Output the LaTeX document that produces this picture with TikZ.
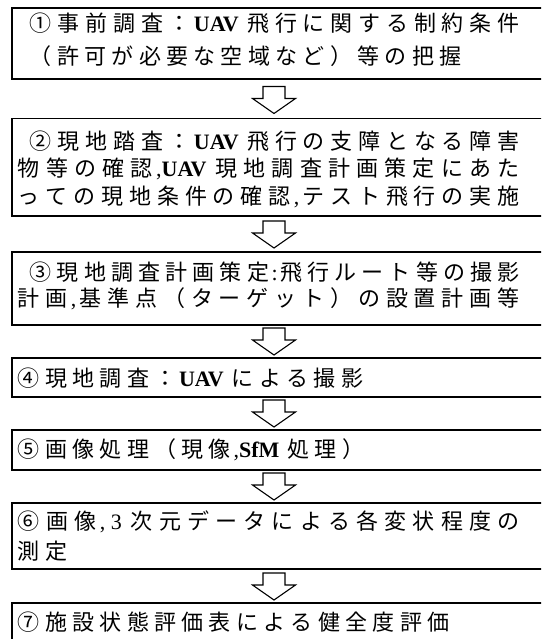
\documentclass[tikz,border=0pt]{standalone}
\usepackage{fontspec}
\setmainfont{Liberation Serif}
\newfontfamily\jp{Noto Sans CJK JP}
\newfontfamily\lat{Liberation Serif}
\newdimen\jpitch \jpitch=27.3pt
\makeatletter
\def\jg@end{\jg@end@}
\def\LT{\LT@}
\def\jg@sep{\hskip 0pt plus 1fil minus 1fil\relax}
\def\jg@{\futurelet\jg@tok\jg@check}
\def\jg@check{\ifx\jg@tok\jg@end\let\jg@next\jg@finish
  \else\ifx\jg@tok\LT\let\jg@next\jg@lat
  \else\let\jg@next\jg@char\fi\fi\jg@next}
\def\jg@finish#1{\unskip}
\def\jg@char#1{\hbox to \jpitch{\hss#1\hss}\jg@sep\jg@}
\def\jg@lat\LT#1{{\lat#1}\jg@sep\jg@}
% natural grid line
\newcommand\jg[1]{\hbox{\jg@#1\jg@end}}
% grid line justified to a given width
\newcommand\jgw[2]{\hbox to #1{\jg@#2\jg@end}}
\makeatother
\newcommand\blockarrow[1]{\draw[barrow] (#1) -- ++(-21.5,-15) -- ++(10.5,0) -- ++(0,-12) -- ++(22,0) -- ++(0,12) -- ++(10.5,0) -- cycle;}
\begin{document}
\begin{tikzpicture}[x=1pt,y=-1pt,
  box/.style={draw, line width=1.6pt, anchor=north west, minimum width=560pt, inner sep=0pt, outer sep=0pt},
  txt/.style={anchor=west, inner sep=0pt, font=\jp\fontsize{22}{22}\selectfont},
  barrow/.style={draw, line width=1.1pt, fill=white, line join=miter}]
\useasboundingbox (0,0) rectangle (541,639);
\clip (0,0) rectangle (541,639);
% boxes
\node[box, minimum height=71pt] (b1) at (12,8) {};
\node[box, minimum height=97.5pt] (b2) at (12,118.5) {};
\node[box, minimum height=73pt] (b3) at (12,252) {};
\node[box, minimum height=39pt] (b4) at (12,358) {};
\node[box, minimum height=40pt] (b5) at (12,430) {};
\node[box, minimum height=66pt] (b6) at (12,503) {};
\node[box, minimum height=60pt] (b7) at (12,603) {};
% texts
\node[txt] (t1a) at (27,23) {\jgw{495pt}{①事前調査：\LT{\bfseries UAV\ }飛行に関する制約条件}};
\node[txt] (t1b) at (27,56) {\jg{（許可が必要な空域など）等の把握}};
\node[txt] (t2a) at (27,141) {\jgw{495pt}{②現地踏査：\LT{\bfseries UAV\ }飛行の支障となる障害}};
\node[txt] (t2b) at (15,169) {\jgw{507pt}{物等の確認\LT{,\bfseries UAV\ }現地調査計画策定にあた}};
\node[txt] (t2c) at (15,197) {\jgw{507pt}{っての現地条件の確認\LT{,}テスト飛行の実施}};
\node[txt] (t3a) at (27,272) {\jgw{495pt}{③現地調査計画策定\LT{:}飛行ルート等の撮影}};
\node[txt] (t3b) at (15,299) {\jgw{507pt}{計画\LT{,}基準点（ターゲット）の設置計画等}};
\node[txt] (t4) at (15,378) {\jg{④現地調査：\LT{\bfseries UAV\ }による撮影}};
\node[txt] (t5) at (15,450) {\jg{⑤画像処理（現像\LT{,\bfseries SfM\ }処理）}};
\node[txt] (t6a) at (15,522) {\jgw{507pt}{⑥画像\LT{,\ 3\ }次元データによる各変状程度の}};
\node[txt] (t6b) at (15,551) {\jg{測定}};
\node[txt] (t7) at (15,622) {\jg{⑦施設状態評価表による健全度評価}};
% arrows (tip just above the next box)
\path (b2.north west) ++(262,-5) coordinate (a1);
\path (b3.north west) ++(262,-4) coordinate (a2);
\path (b4.north west) ++(262,-3) coordinate (a3);
\path (b5.north west) ++(262,-3) coordinate (a4);
\path (b6.north west) ++(262,-3) coordinate (a5);
\path (b7.north west) ++(262,-3) coordinate (a6);
\blockarrow{a1}
\blockarrow{a2}
\blockarrow{a3}
\blockarrow{a4}
\blockarrow{a5}
\blockarrow{a6}
\end{tikzpicture}
\end{document}
